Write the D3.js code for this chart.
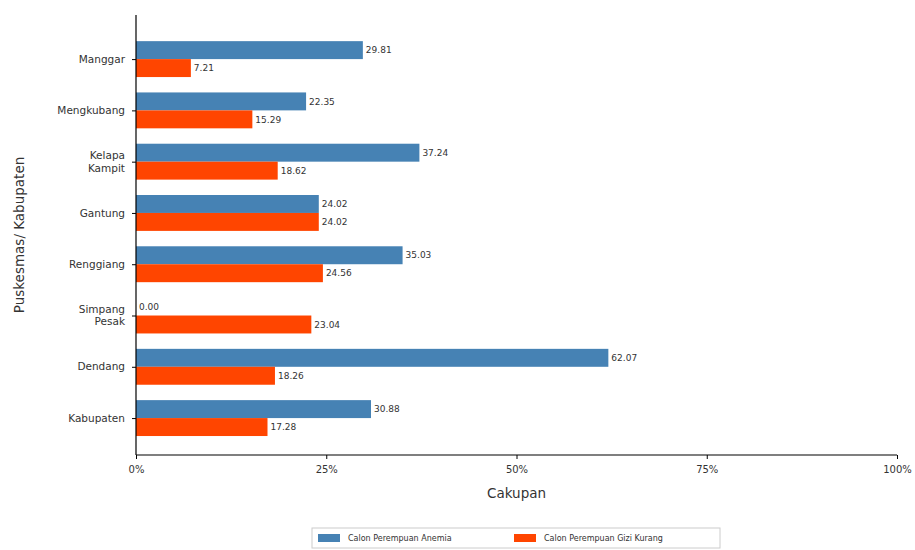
<!DOCTYPE html>
<html><head><meta charset="utf-8">
<script src="https://cdn.jsdelivr.net/npm/d3@7"></script>
<style>body{margin:0;background:#fff;font-family:"DejaVu Sans",sans-serif;}</style>
</head><body><svg id="c" width="915" height="550"></svg>
<script>
const categories = ["Manggar","Mengkubang","Kelapa\nKampit","Gantung","Renggiang","Simpang\nPesak","Dendang","Kabupaten"];
const seriesNames = ["Calon Perempuan Anemia","Calon Perempuan Gizi Kurang"];
const anemia = [29.81,22.35,37.24,24.02,35.03,0.00,62.07,30.88];
const giziKurang = [7.21,15.29,18.62,24.02,24.56,23.04,18.26,17.28];
const xTicks = [0,25,50,75,100];
const colors = ["#4682B4","#FF4500"];

(function(){
const svg = d3.select("#c");
const mL = 136, mR = 897, mT = 15, mB = 455;
const x = d3.scaleLinear().domain([0,100]).range([mL,mR]);
const y = d3.scaleLinear().domain([-0.86, 7.72]).range([mT,mB]);
const bh = y(0.35)-y(0);

const g = svg.append("g");
[anemia, giziKurang].forEach((vals, s) => {
  vals.forEach((v,i) => {
    const y0 = s===0 ? y(i)-bh : y(i);
    g.append("rect").attr("x", x(0)).attr("y", y0).attr("width", x(v)-x(0)).attr("height", bh).attr("fill", colors[s]);
    g.append("text").attr("x", x(v)+3).attr("y", y0+bh/2).attr("dy","0.35em")
      .attr("font-size",9).attr("fill","#333").text(v.toFixed(2));
  });
});

const xa = svg.append("g").attr("transform",`translate(0,${mB})`)
  .call(d3.axisBottom(x).tickValues(xTicks).tickFormat(d=>d+"%").tickSizeOuter(0).tickSize(4));
xa.select(".domain").attr("stroke","#000").attr("stroke-width",1.2).attr("d",`M${mL},0H${mR}`);
xa.selectAll("text").attr("font-size",10).attr("fill","#333").attr("font-family","DejaVu Sans").attr("dy","1.1em");

const ya = svg.append("g").attr("transform",`translate(${mL},0)`)
  .call(d3.axisLeft(y).tickValues(d3.range(categories.length)).tickFormat("").tickSize(4).tickSizeOuter(0));
ya.select(".domain").attr("stroke","#000").attr("stroke-width",1.2).attr("d",`M0,${mT}V${mB}`);
categories.forEach((c,i) => {
  const lines = c.split("\n");
  const t = svg.append("text").attr("x", mL-11).attr("text-anchor","end")
    .attr("font-size",10.5).attr("fill","#333");
  lines.forEach((ln,k) => {
    t.append("tspan").attr("x", mL-11)
      .attr("y", y(i) + (k - (lines.length-1)/2)*12.5).attr("dy","0.35em").text(ln);
  });
});

svg.append("text").attr("x",(mL+mR)/2).attr("y",498).attr("text-anchor","middle")
  .attr("font-size",13.5).attr("fill","#333").text("Cakupan");
svg.append("text").attr("transform",`translate(24,${(mT+mB)/2}) rotate(-90)`).attr("text-anchor","middle")
  .attr("font-size",13.5).attr("fill","#333").text("Puskesmas/ Kabupaten");

const lg = svg.append("g");
lg.append("rect").attr("x",312).attr("y",528).attr("width",408).attr("height",20)
  .attr("fill","#fff").attr("stroke","#ccc");
const items = [{x:318},{x:514}];
seriesNames.forEach((n,i)=>{
  lg.append("rect").attr("x",items[i].x).attr("y",534).attr("width",22).attr("height",8).attr("fill",colors[i]);
  lg.append("text").attr("x",items[i].x+30).attr("y",538).attr("dy","0.35em").attr("font-size",8).attr("fill","#333").text(n);
});
})();
</script></body></html>
